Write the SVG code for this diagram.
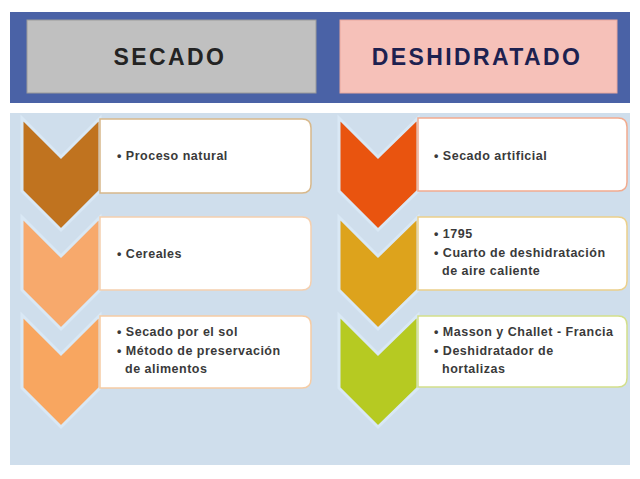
<svg xmlns="http://www.w3.org/2000/svg" width="640" height="479" viewBox="0 0 640 479">
<defs>
<style>
.hdr{font-family:"Liberation Sans",Arial,sans-serif;font-weight:bold;font-size:23px;letter-spacing:2.4px;text-anchor:middle}
.t{font-family:"Liberation Sans",Arial,sans-serif;font-weight:bold;font-size:12.5px;fill:#3a3a3a;letter-spacing:0.5px}
.box{fill:#ffffff;stroke-width:1.5}
.chev{stroke:#d9e8f5;stroke-width:3;stroke-linejoin:miter}
</style>
</defs>
<rect x="0" y="0" width="640" height="479" fill="#ffffff"/>
<g id="header">
<rect x="10" y="12" width="620" height="91" fill="#4a62a6"/>
<rect x="27" y="20" width="289" height="73" fill="#c0c0c0" stroke="#9a9a9a" stroke-width="1"/>
<rect x="340" y="20" width="277" height="73" fill="#f6c1b9" stroke="#e8a89e" stroke-width="1"/>
<text class="hdr" x="170" y="65" fill="#232323">SECADO</text>
<text class="hdr" x="477" y="65" fill="#1d2150">DESHIDRATADO</text>
</g>
<rect id="panel" x="10" y="113" width="620" height="352" fill="#cfdeec"/>

<g id="secado-1">
<polygon class="chev" points="22,118 61,157 100,118 100,191 61,230 22,191" fill="#c0731f"/>
<path class="box" d="M100,119 H302 Q311,119 311,128 V184 Q311,193 302,193 H100 Z" stroke="#d8b88a"/>
<text class="t" x="117" y="160">• Proceso natural</text>
</g>
<g id="secado-2">
<polygon class="chev" points="22,217 61,256 100,217 100,290 61,329 22,290" fill="#f7a96c"/>
<path class="box" d="M100,217 H302 Q311,217 311,226 V281 Q311,290 302,290 H100 Z" stroke="#f5cfae"/>
<text class="t" x="117" y="258">• Cereales</text>
</g>
<g id="secado-3">
<polygon class="chev" points="22,315 61,354 100,315 100,388 61,427 22,388" fill="#f8a660"/>
<path class="box" d="M100,316 H302 Q311,316 311,325 V379 Q311,388 302,388 H100 Z" stroke="#f6cca4"/>
<text class="t" x="117" y="336">• Secado por el sol</text>
<text class="t" x="117" y="355">• Método de preservación</text>
<text class="t" x="125" y="373">de alimentos</text>
</g>

<g id="deshidratado-1">
<polygon class="chev" points="339,118 378,157 418,118 418,191 378,230 339,191" fill="#e9540f"/>
<path class="box" d="M418,118 H618 Q627,118 627,127 V182 Q627,191 618,191 H418 Z" stroke="#f2ab8e"/>
<text class="t" x="434" y="160">• Secado artificial</text>
</g>
<g id="deshidratado-2">
<polygon class="chev" points="339,217 378,256 418,217 418,290 378,329 339,290" fill="#dda31c"/>
<path class="box" d="M418,217 H618 Q627,217 627,226 V281 Q627,290 618,290 H418 Z" stroke="#ecd08a"/>
<text class="t" x="434" y="238">• 1795</text>
<text class="t" x="434" y="257">• Cuarto de deshidratación</text>
<text class="t" x="442" y="275">de aire caliente</text>
</g>
<g id="deshidratado-3">
<polygon class="chev" points="339,315 378,354 418,315 418,388 378,427 339,388" fill="#b6ca22"/>
<path class="box" d="M418,316 H618 Q627,316 627,325 V378 Q627,387 618,387 H418 Z" stroke="#d3df8a"/>
<text class="t" x="434" y="336">• Masson y Challet - Francia</text>
<text class="t" x="434" y="355">• Deshidratador de</text>
<text class="t" x="442" y="373">hortalizas</text>
</g>
</svg>
